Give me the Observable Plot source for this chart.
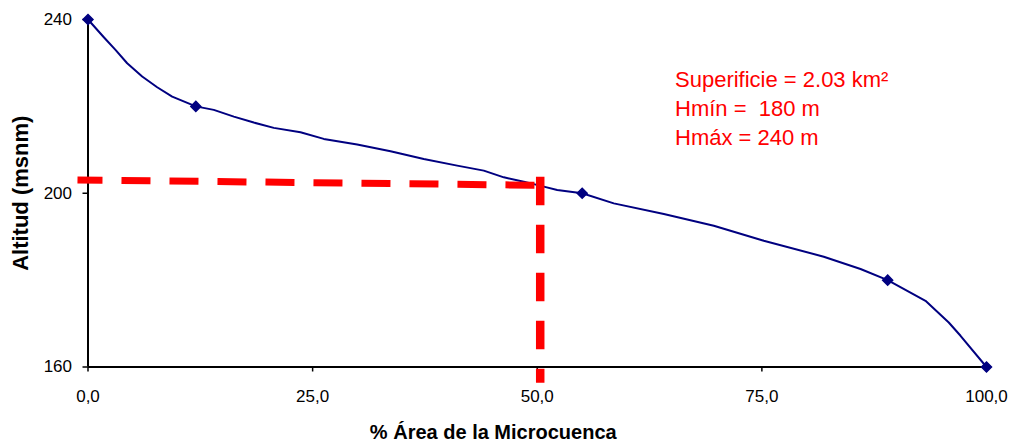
<!DOCTYPE html>
<html><head><meta charset="utf-8">
<script src="https://cdn.jsdelivr.net/npm/d3@7"></script>
<script src="https://cdn.jsdelivr.net/npm/@observablehq/plot@0.6"></script>
<style>
html,body{margin:0;padding:0;background:#fff;}
#chart svg{display:block;background:#fff;}
#chart text{white-space:pre;}
</style></head><body><div id="chart"></div>
<script>
// Hypsometric curve
const areaPct = [0, 1.76, 3.06, 4.36, 6.03, 7.70, 9.37, 12, 14.0, 16.23, 18.45, 20.68, 23.65, 26.24, 29.96, 33.67, 37.37, 41.09, 44.05, 46.28, 48.5, 50.73, 52.22, 55, 58.52, 64.09, 69.65, 75.21, 81.89, 85.98, 89, 93.21, 95.8, 97.11, 100];
const altitude = [240, 235.92, 233.02, 229.93, 226.87, 224.40, 222.26, 220, 219.19, 217.65, 216.27, 215.05, 214.03, 212.51, 211.2, 209.65, 207.9, 206.36, 205.21, 203.66, 202.67, 201.52, 200.76, 200, 197.67, 195.23, 192.53, 189.08, 185.39, 182.56, 180, 175.25, 170.25, 167.19, 160];
const markerArea = [0, 12, 55, 89, 100];
const markerAltitude = [240, 220, 200, 180, 160];
// red dashed reference lines
const refHArea = [-1.17, 50.3];
const refHAlt = [203.06, 201.84];
const refVArea = [50.33, 50.33];
const refVAlt = [203.82, 156.36];
// ticks and text
const xTicks = [0, 25, 50, 75, 100];
const xTickLabels = ["0,0", "25,0", "50,0", "75,0", "100,0"];
const yTicks = [160, 200, 240];
const xTitle = "% Área de la Microcuenca";
const yTitle = "Altitud (msnm)";
const noteLines = ["Superificie = 2.03 km²", "Hmín =  180 m", "Hmáx = 240 m"];

const font = "'Liberation Sans', Arial, sans-serif";
const curve = areaPct.map((x, i) => ({x, y: altitude[i]}));
const markers = markerArea.map((x, i) => ({x, y: markerAltitude[i]}));
const refH = refHArea.map((x, i) => ({x, y: refHAlt[i]}));
const refV = refVArea.map((x, i) => ({x, y: refVAlt[i]}));

const chart = Plot.plot({
  width: 1014,
  height: 446,
  marginTop: 19,
  marginRight: 28,
  marginBottom: 79.5,
  marginLeft: 87.5,
  style: {fontFamily: font, fontSize: "17px", color: "#000", background: "#fff"},
  x: {domain: [0, 100]},
  y: {domain: [160, 240]},
  marks: [
    Plot.axisX(xTicks, {tickSize: 5, tickPadding: 17.5, strokeWidth: 1.5, fontSize: 17, label: null,
      tickFormat: d => xTickLabels[xTicks.indexOf(d)]}),
    Plot.axisY(yTicks, {tickSize: 5, tickPadding: 11, strokeWidth: 1.5, fontSize: 17, label: null}),
    Plot.ruleX([0], {stroke: "#000", strokeWidth: 2}),
    Plot.ruleY([160], {stroke: "#000", strokeWidth: 2}),
    Plot.line(curve, {x: "x", y: "y", stroke: "#000080", strokeWidth: 2}),
    Plot.dot(markers, {x: "x", y: "y", symbol: "diamond2", r: 4.5, fill: "#000080", stroke: "#000080"}),
    Plot.line(refH, {x: "x", y: "y", stroke: "#ff0000", strokeWidth: 7, strokeDasharray: "29,19", strokeDashoffset: 4,
      strokeLinecap: "butt", strokeLinejoin: "miter"}),
    Plot.line(refV, {x: "x", y: "y", stroke: "#ff0000", strokeWidth: 8.5, strokeDasharray: "28.5,19.5",
      strokeLinecap: "butt", strokeLinejoin: "miter"}),
    Plot.text([noteLines.join("\n")], {text: d => d, frameAnchor: "top-left", dx: 587, dy: 47.7,
      textAnchor: "start", lineAnchor: "top", lineHeight: 1.3, fill: "#ff0000", fontSize: 22, fontFamily: font}),
    Plot.text([xTitle], {text: d => d, frameAnchor: "bottom", dx: -44, dy: 71.5, lineAnchor: "bottom",
      textAnchor: "middle", fontSize: 20, fontWeight: "bold", fontFamily: font, fill: "#000"}),
    Plot.text([yTitle], {text: d => d, frameAnchor: "left", dx: -67.5, dy: 0, rotate: -90,
      textAnchor: "middle", fontSize: 22, fontWeight: "bold", fontFamily: font, fill: "#000"})
  ]
});
document.getElementById("chart").appendChild(chart);
</script>
</body></html>
